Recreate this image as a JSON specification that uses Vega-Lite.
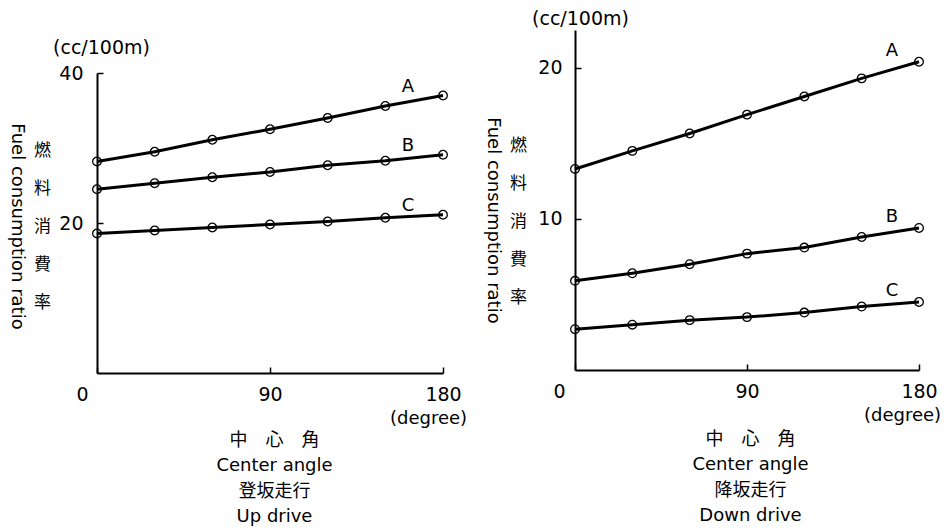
{
  "$schema": "https://vega.github.io/schema/vega-lite/v6.json",
  "background": "white",
  "padding": {"left": 7, "top": 9, "right": 0, "bottom": 0},
  "autosize": {"type": "pad"},
  "config": {
    "font": "DejaVu Sans",
    "view": {"stroke": null},
    "axis": {
      "grid": false,
      "labelFlush": false,
      "domainColor": "black",
      "domainWidth": 2,
      "tickColor": "black",
      "tickWidth": 1.5,
      "labelColor": "black",
      "titleColor": "black",
      "labelFont": "DejaVu Sans",
      "titleFont": "DejaVu Sans, Noto Sans CJK JP",
      "titleFontWeight": "normal",
      "titleFontSize": 18,
      "labelFontSize": 19
    }
  },
  "hconcat": [
    {
      "width": 346,
      "height": 343,
      "data": {
        "values": [
          {"angle": 0, "ratio": 28.2, "series": "A"},
          {"angle": 30, "ratio": 29.5, "series": "A"},
          {"angle": 60, "ratio": 31.1, "series": "A"},
          {"angle": 90, "ratio": 32.5, "series": "A"},
          {"angle": 120, "ratio": 34.0, "series": "A"},
          {"angle": 150, "ratio": 35.6, "series": "A"},
          {"angle": 180, "ratio": 37.0, "series": "A"},
          {"angle": 0, "ratio": 24.5, "series": "B"},
          {"angle": 30, "ratio": 25.3, "series": "B"},
          {"angle": 60, "ratio": 26.1, "series": "B"},
          {"angle": 90, "ratio": 26.8, "series": "B"},
          {"angle": 120, "ratio": 27.7, "series": "B"},
          {"angle": 150, "ratio": 28.3, "series": "B"},
          {"angle": 180, "ratio": 29.1, "series": "B"},
          {"angle": 0, "ratio": 18.6, "series": "C"},
          {"angle": 30, "ratio": 19.0, "series": "C"},
          {"angle": 60, "ratio": 19.4, "series": "C"},
          {"angle": 90, "ratio": 19.8, "series": "C"},
          {"angle": 120, "ratio": 20.2, "series": "C"},
          {"angle": 150, "ratio": 20.7, "series": "C"},
          {"angle": 180, "ratio": 21.1, "series": "C"}
        ]
      },
      "layer": [
        {
          "mark": {"type": "line", "color": "black", "strokeWidth": 3},
          "encoding": {
            "x": {
              "field": "angle", "type": "quantitative",
              "scale": {"domain": [0, 180], "nice": false},
              "axis": {
                "orient": "bottom",
                "values": [0, 90, 180],
                "tickSize": -6,
                "labelPadding": 18,
                "labelOffset": {"condition": {"test": "datum.value === 0", "value": -15}, "value": 0},
                "title": "(degree)",
                "titleX": 331, "titleY": 45,
                "titleAlign": "center", "titleBaseline": "middle"
              }
            },
            "y": {
              "field": "ratio", "type": "quantitative",
              "scale": {"domain": [0, 40], "range": [343, 43], "nice": false},
              "axis": {
                "orient": "left",
                "values": [20, 40],
                "tickSize": -6,
                "labelPadding": 20,
                "title": "(cc/100m)",
                "titleAngle": 0,
                "titleFontSize": 19,
                "titleX": 4, "titleY": 17,
                "titleAlign": "center", "titleBaseline": "middle"
              }
            },
            "detail": {"field": "series"}
          }
        },
        {
          "mark": {"type": "point", "shape": "circle", "filled": false, "color": "black", "size": 75, "strokeWidth": 1.3, "opacity": 1},
          "encoding": {
            "x": {
              "field": "angle", "type": "quantitative",
              "axis": {
                "orient": "bottom", "labels": false, "ticks": false, "domain": false,
                "title": ["中　心　角", "Center angle", "登坂走行", "Up drive"],
                "titleX": 177, "titleY": 67,
                "titleAlign": "center", "titleBaseline": "middle",
                "titleLineHeight": 25.5
              }
            },
            "y": {
              "field": "ratio", "type": "quantitative",
              "axis": {
                "orient": "left", "labels": false, "ticks": false, "domain": false,
                "title": ["燃", "料", "消", "費", "率"],
                "titleAngle": 0,
                "titleFont": "Noto Sans CJK JP",
                "titleFontSize": 17,
                "titleLineHeight": 38,
                "titleX": -55, "titleY": 120,
                "titleAlign": "center", "titleBaseline": "middle"
              }
            }
          }
        },
        {
          "transform": [{"filter": "datum.angle === 180"}],
          "mark": {"type": "text", "dx": -35, "dy": -9, "fontSize": 18, "color": "black", "font": "DejaVu Sans"},
          "encoding": {
            "x": {"field": "angle", "type": "quantitative", "axis": null},
            "y": {
              "field": "ratio", "type": "quantitative",
              "axis": {
                "orient": "left", "labels": false, "ticks": false, "domain": false,
                "title": "Fuel consumption ratio",
                "titleAngle": 90,
                "titleX": -81, "titleY": 196,
                "titleAlign": "center", "titleBaseline": "middle"
              }
            },
            "text": {"field": "series"}
          }
        }
      ],
      "resolve": {"axis": {"x": "independent", "y": "independent"}}
    },
    {
      "width": 344,
      "height": 340,
      "data": {
        "values": [
          {"angle": 0, "ratio": 13.3, "series": "A"},
          {"angle": 30, "ratio": 14.5, "series": "A"},
          {"angle": 60, "ratio": 15.65, "series": "A"},
          {"angle": 90, "ratio": 16.9, "series": "A"},
          {"angle": 120, "ratio": 18.1, "series": "A"},
          {"angle": 150, "ratio": 19.3, "series": "A"},
          {"angle": 180, "ratio": 20.4, "series": "A"},
          {"angle": 0, "ratio": 5.9, "series": "B"},
          {"angle": 30, "ratio": 6.4, "series": "B"},
          {"angle": 60, "ratio": 7.0, "series": "B"},
          {"angle": 90, "ratio": 7.7, "series": "B"},
          {"angle": 120, "ratio": 8.1, "series": "B"},
          {"angle": 150, "ratio": 8.8, "series": "B"},
          {"angle": 180, "ratio": 9.4, "series": "B"},
          {"angle": 0, "ratio": 2.7, "series": "C"},
          {"angle": 30, "ratio": 3.0, "series": "C"},
          {"angle": 60, "ratio": 3.3, "series": "C"},
          {"angle": 90, "ratio": 3.5, "series": "C"},
          {"angle": 120, "ratio": 3.8, "series": "C"},
          {"angle": 150, "ratio": 4.2, "series": "C"},
          {"angle": 180, "ratio": 4.5, "series": "C"}
        ]
      },
      "layer": [
        {
          "mark": {"type": "line", "color": "black", "strokeWidth": 3},
          "encoding": {
            "x": {
              "field": "angle", "type": "quantitative",
              "scale": {"domain": [0, 180], "nice": false},
              "axis": {
                "orient": "bottom",
                "values": [0, 90, 180],
                "tickSize": -6,
                "labelPadding": 18,
                "labelOffset": {"condition": {"test": "datum.value === 0", "value": -16}, "value": 0},
                "title": "(degree)",
                "titleX": 327, "titleY": 45,
                "titleAlign": "center", "titleBaseline": "middle"
              }
            },
            "y": {
              "field": "ratio", "type": "quantitative",
              "scale": {"domain": [0, 22.5], "nice": false},
              "axis": {
                "orient": "left",
                "values": [10, 20],
                "tickSize": -6,
                "labelPadding": 19,
                "title": "(cc/100m)",
                "titleAngle": 0,
                "titleFontSize": 19,
                "titleX": 5, "titleY": -12,
                "titleAlign": "center", "titleBaseline": "middle"
              }
            },
            "detail": {"field": "series"}
          }
        },
        {
          "mark": {"type": "point", "shape": "circle", "filled": false, "color": "black", "size": 75, "strokeWidth": 1.3, "opacity": 1},
          "encoding": {
            "x": {
              "field": "angle", "type": "quantitative",
              "axis": {
                "orient": "bottom", "labels": false, "ticks": false, "domain": false,
                "title": ["中　心　角", "Center angle", "降坂走行", "Down drive"],
                "titleX": 175, "titleY": 69,
                "titleAlign": "center", "titleBaseline": "middle",
                "titleLineHeight": 25.5
              }
            },
            "y": {
              "field": "ratio", "type": "quantitative",
              "axis": {
                "orient": "left", "labels": false, "ticks": false, "domain": false,
                "title": ["燃", "料", "消", "費", "率"],
                "titleAngle": 0,
                "titleFont": "Noto Sans CJK JP",
                "titleFontSize": 17,
                "titleLineHeight": 38,
                "titleX": -57, "titleY": 115,
                "titleAlign": "center", "titleBaseline": "middle"
              }
            }
          }
        },
        {
          "transform": [{"filter": "datum.angle === 180"}],
          "mark": {"type": "text", "dx": -27, "dy": -11, "fontSize": 18, "color": "black", "font": "DejaVu Sans"},
          "encoding": {
            "x": {"field": "angle", "type": "quantitative", "axis": null},
            "y": {
              "field": "ratio", "type": "quantitative",
              "axis": {
                "orient": "left", "labels": false, "ticks": false, "domain": false,
                "title": "Fuel consumption ratio",
                "titleAngle": 90,
                "titleX": -83, "titleY": 190,
                "titleAlign": "center", "titleBaseline": "middle"
              }
            },
            "text": {"field": "series"}
          }
        }
      ],
      "resolve": {"axis": {"x": "independent", "y": "independent"}}
    }
  ],
  "spacing": 132,
  "bounds": "flush"
}
